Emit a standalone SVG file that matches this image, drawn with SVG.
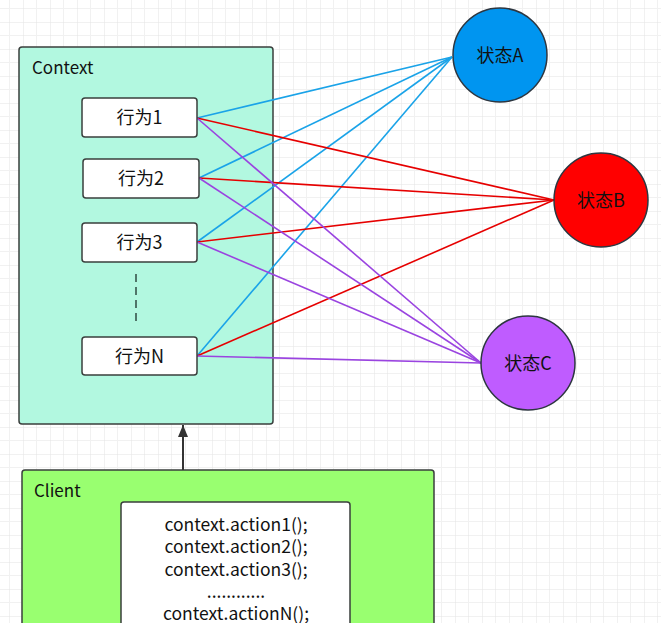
<svg xmlns="http://www.w3.org/2000/svg" width="661" height="623" viewBox="0 0 661 623">
<defs>
<pattern id="grid" x="23" y="22" width="27" height="27" patternUnits="userSpaceOnUse">
<path d="M13.5 0V27M0 13.5H27" stroke="#f1f1f1" stroke-width="1" fill="none"/>
<path d="M0 0V27M0 0H27" stroke="#e3e3e3" stroke-width="1" fill="none"/>
</pattern>
<marker id="arrow" viewBox="0 0 12 10" refX="12" refY="5" markerWidth="13" markerHeight="10" markerUnits="userSpaceOnUse" orient="auto">
<path d="M0 0L12 5L0 10Z" fill="#333"/>
</marker>
</defs>
<style>
text{font-family:"Noto Sans CJK SC","Noto Sans","Liberation Sans",sans-serif;fill:#111;}
.box{stroke:#3a3f3d;stroke-width:1.5;}
.beh{fill:#fff;stroke:#3a3f3d;stroke-width:1.5;}
.bt{font-size:18px;text-anchor:middle;}
.lbl{font-size:17px;}
.code{font-size:17.5px;text-anchor:middle;}
.st{stroke:#2d3640;stroke-width:1.5;}
.blue{stroke:#1aa3e8;stroke-width:1.6;fill:none;}
.red{stroke:#e60000;stroke-width:1.6;fill:none;}
.pur{stroke:#9a44e0;stroke-width:1.6;fill:none;}
</style>
<rect width="661" height="623" fill="#fff"/>
<rect width="661" height="623" fill="url(#grid)"/>

<g id="context">
<rect class="box" x="19" y="47" width="254" height="377" rx="3" fill="#b2f8e0"/>
<text class="lbl" x="32" y="74">Context</text>
</g>
<g id="client">
<rect class="box" x="22" y="470" width="412" height="170" rx="3" fill="#99ff70"/>
<text class="lbl" x="34" y="497">Client</text>
<rect class="beh" x="121" y="502" width="229" height="140" rx="3"/>
<text class="code" x="236" y="531">context.action1();</text>
<text class="code" x="236" y="553">context.action2();</text>
<text class="code" x="236" y="576">context.action3();</text>
<text class="code" x="236" y="598">............</text>
<text class="code" x="236" y="620">context.actionN();</text>
</g>

<g id="connectors">
<line class="blue" x1="197" y1="118" x2="452" y2="57"/>
<line class="blue" x1="199" y1="178" x2="452" y2="57"/>
<line class="blue" x1="197" y1="242" x2="452" y2="57"/>
<line class="blue" x1="197" y1="356" x2="452" y2="57"/>
<line class="red" x1="197" y1="118" x2="554" y2="200"/>
<line class="red" x1="199" y1="178" x2="554" y2="200"/>
<line class="red" x1="197" y1="242" x2="554" y2="200"/>
<line class="red" x1="197" y1="356" x2="554" y2="200"/>
<line class="pur" x1="197" y1="118" x2="481" y2="363"/>
<line class="pur" x1="199" y1="178" x2="481" y2="363"/>
<line class="pur" x1="197" y1="242" x2="481" y2="363"/>
<line class="pur" x1="197" y1="356" x2="481" y2="363"/>
<line x1="136" y1="274" x2="136" y2="326" stroke="#2f4a42" stroke-width="1.5" stroke-dasharray="8 5"/>
<line x1="183" y1="470" x2="183" y2="425" stroke="#333" stroke-width="2" marker-end="url(#arrow)"/>
</g>

<g id="b1"><rect class="beh" x="82" y="98" width="115" height="39" rx="3"/><text class="bt" x="139.5" y="124">行为1</text></g>
<g id="b2"><rect class="beh" x="83" y="159" width="116" height="39" rx="3"/><text class="bt" x="141" y="185">行为2</text></g>
<g id="b3"><rect class="beh" x="82" y="223" width="115" height="39" rx="3"/><text class="bt" x="139.5" y="249">行为3</text></g>
<g id="bN"><rect class="beh" x="82" y="337" width="115" height="38" rx="3"/><text class="bt" x="139.5" y="362.5">行为N</text></g>

<g id="stateA"><circle class="st" cx="500" cy="55" r="47" fill="#0095f0"/><text class="bt" x="500" y="61.5">状态A</text></g>
<g id="stateB"><circle class="st" cx="601" cy="200" r="47" fill="#ff0000"/><text class="bt" x="601" y="206.5">状态B</text></g>
<g id="stateC"><circle class="st" cx="528" cy="363" r="47" fill="#bf5cff"/><text class="bt" x="528" y="369.5">状态C</text></g>
</svg>
